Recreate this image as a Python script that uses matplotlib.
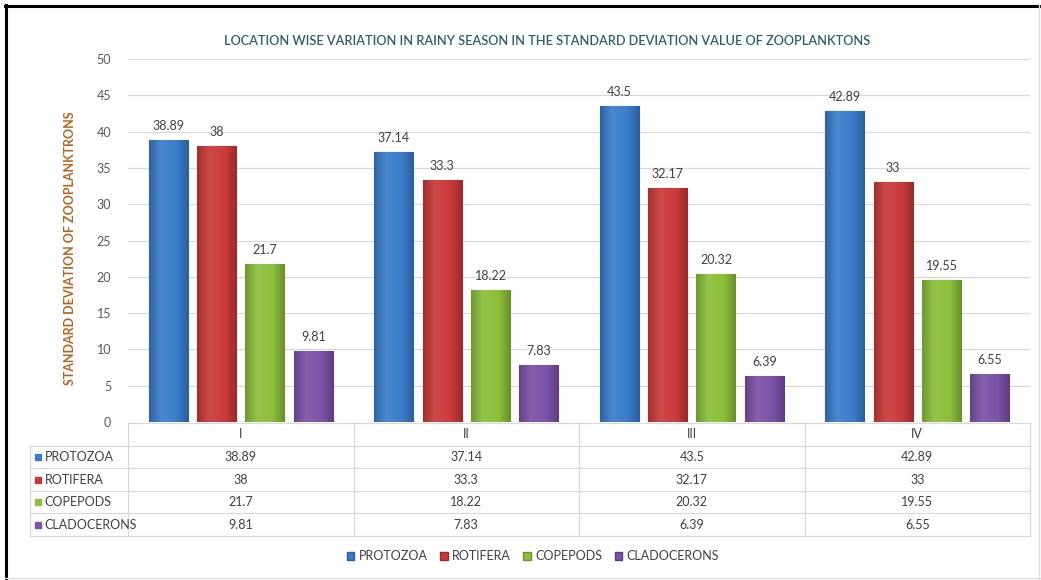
import matplotlib.pyplot as plt
import numpy as np
from matplotlib.patches import Patch
from matplotlib.lines import Line2D
from matplotlib.colors import LinearSegmentedColormap, to_rgb

# ---- data ----
locations = ["I", "II", "III", "IV"]
series_names = ["PROTOZOA", "ROTIFERA", "COPEPODS", "CLADOCERONS"]
protozoa = [38.89, 37.14, 43.5, 42.89]
rotifera = [38, 33.3, 32.17, 33]
copepods = [21.7, 18.22, 20.32, 19.55]
cladocerons = [9.81, 7.83, 6.39, 6.55]
yticks = [0, 5, 10, 15, 20, 25, 30, 35, 40, 45, 50]

series = [protozoa, rotifera, copepods, cladocerons]
colors = ["#3b7dcb", "#cb3a3a", "#8cbf3b", "#7c52a8"]
edges = ["#2a5d9c", "#9c2a2a", "#6b9528", "#5b3a80"]


def shade(c, f):
    r = np.array(to_rgb(c))
    if f < 1:
        return tuple(r * f)
    return tuple(r + (1 - r) * (f - 1))


W, H = 1041, 580
plt.rcParams['font.family'] = ['Lato', 'DejaVu Sans']
fig = plt.figure(figsize=(W / 100, H / 100), dpi=100)

# main chart area (pixel positions of the reference)
x0, x1 = 128, 1030
y_top, y_zero = 59, 422
ax = fig.add_axes([x0 / W, 1 - y_zero / H, (x1 - x0) / W, (y_zero - y_top) / H])

bar_w = 0.173
step = 0.215
x = np.arange(len(locations))
grad = np.linspace(0, 1, 64).reshape(1, -1)
for i, (vals, c, ec) in enumerate(zip(series, colors, edges)):
    pos = x + (i - 1.5) * step
    bars = ax.bar(pos, vals, width=bar_w, color=c, edgecolor=ec, linewidth=0.8, zorder=3)
    cmap = LinearSegmentedColormap.from_list(
        "g", [(0, shade(c, 0.8)), (0.3, shade(c, 1.08)), (0.7, c), (1, shade(c, 0.75))])
    for b, v in zip(bars, vals):
        im = ax.imshow(grad, cmap=cmap, aspect='auto', zorder=3.1,
                       extent=(b.get_x(), b.get_x() + b.get_width(), 0, v))
        im.set_clip_path(b)
        ax.text(b.get_x() + b.get_width() / 2, v + 1.1, f"{v:g}", ha='center', va='bottom',
                fontsize=9, color='#404040', zorder=4)

ax.set_xlim(-0.5, 3.5)
ax.set_ylim(0, 50)
ax.set_yticks(yticks)
ax.set_xticks([])
ax.tick_params(axis='y', length=0, pad=12, labelsize=9, labelcolor='#595959')
ax.grid(axis='y', color='#d9d9d9', linewidth=0.9, zorder=0)
for s in ax.spines.values():
    s.set_visible(False)
ax.set_ylabel("STANDARD DEVIATION OF ZOOPLANKTRONS", fontsize=9, fontweight='bold',
              color='#b5651d')
ax.yaxis.set_label_coords((76 - x0) / (x1 - x0), (y_zero - 248) / (y_zero - y_top))

fig.text(547 / W, 1 - 41 / H,
         "LOCATION WISE VARIATION IN RAINY SEASON IN THE STANDARD DEVIATION VALUE OF ZOOPLANKTONS",
         ha='center', va='center', fontsize=9.2, fontweight='semibold', color='#2f5f6f')

# ---- data table under the chart ----
t_top, t_bot = 423, 536
tax = fig.add_axes([x0 / W, 1 - t_bot / H, (x1 - x0) / W, (t_bot - t_top) / H])
tax.set_xlim(-0.5, 3.5)
tax.set_ylim(5, 0)
tax.axis('off')
lab_left = -0.5 - (x0 - 30) / ((x1 - x0) / 4)
grid_c = '#d9d9d9'
kw = dict(color=grid_c, linewidth=0.9, clip_on=False)
tax.plot([-0.5, 3.5], [0, 0], **kw)
for r in range(1, 6):
    tax.plot([lab_left, 3.5], [r, r], **kw)
tax.plot([lab_left, lab_left], [1, 5], **kw)
for k in range(5):
    tax.plot([k - 0.5, k - 0.5], [0, 5], **kw)

for j, loc in enumerate(locations):
    tax.text(j, 0.5, loc, ha='center', va='center', fontsize=9, color='#404040')
for i, (name, vals, c) in enumerate(zip(series_names, series, colors)):
    tax.text(lab_left + 0.065, i + 1.5, name, ha='left', va='center', fontsize=9,
             color='#404040', clip_on=False)
    tax.add_line(Line2D([lab_left + 0.035], [i + 1.5], marker='s', markersize=5,
                        color=c, linestyle='none', clip_on=False))
    for j, v in enumerate(vals):
        tax.text(j, i + 1.5, f"{v:g}", ha='center', va='center', fontsize=9, color='#404040')

# legend
handles = [Patch(facecolor=c, edgecolor=ec, label=n) for n, c, ec in zip(series_names, colors, edges)]
fig.legend(handles=handles, loc='center', bbox_to_anchor=(533 / W, 1 - 556 / H), ncol=4,
           frameon=False, fontsize=9, handlelength=0.6, handleheight=0.6, handletextpad=0.35,
           columnspacing=1.0, labelcolor='#404040')

# outer frame: heavy black top/left, faint right/bottom
fig.add_artist(Line2D([5 / W, 1], [1 - 6 / H, 1 - 6 / H], color='black', linewidth=2.2))
fig.add_artist(Line2D([6 / W, 6 / W], [0, 1 - 5 / H], color='black', linewidth=2.2))
fig.add_artist(Line2D([5 / W, 1], [2 / H, 2 / H], color='#e0e0e0', linewidth=1))
fig.add_artist(Line2D([1 - 2 / W, 1 - 2 / W], [0, 1 - 5 / H], color='#e0e0e0', linewidth=1))

fig.savefig("out.png", dpi=100)
